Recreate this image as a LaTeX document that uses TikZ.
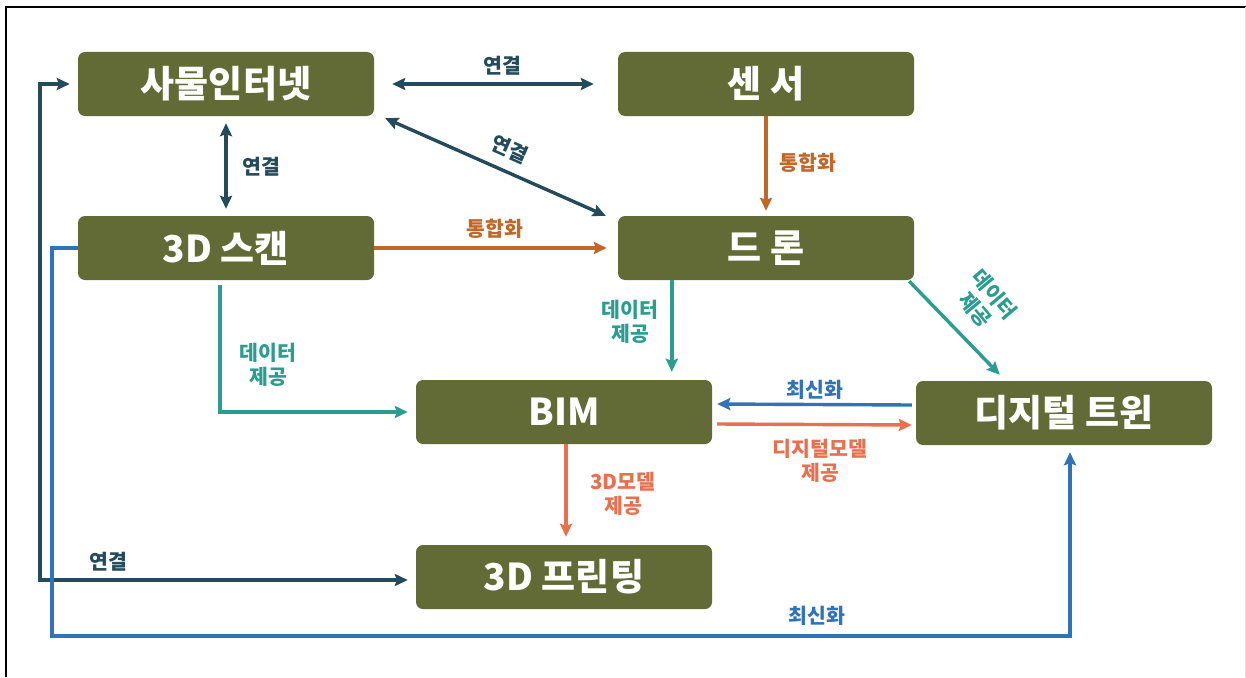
\documentclass[tikz,border=0pt]{standalone}
\usepackage{fontspec}
\setmainfont{Noto Sans CJK KR}
\usetikzlibrary{arrows.meta,calc}
\definecolor{olivebox}{HTML}{626B36}
\definecolor{dk}{HTML}{234B5B}
\definecolor{orng}{HTML}{C0682A}
\definecolor{tl}{HTML}{2A9D8F}
\definecolor{bl}{HTML}{3173B9}
\definecolor{crl}{HTML}{E8704F}
\tikzset{
  box/.style={rectangle, rounded corners=7pt, fill=olivebox, minimum width=296pt, minimum height=64pt, inner sep=0pt, text=white, font=\fontsize{37}{42}\selectfont\bfseries},
  conn/.style={line width=3.4pt, -{Stealth[length=13pt,width=12pt,inset=2pt]}},
  bidir/.style={line width=3.4pt, {Stealth[length=13pt,width=12pt,inset=2pt]}-{Stealth[length=13pt,width=12pt,inset=2pt]}},
  lbl/.style={font=\fontsize{20.5}{24}\selectfont\bfseries, align=center, inner sep=0pt}
}
\begin{document}
\begin{tikzpicture}[x=1pt,y=-1pt]
\useasboundingbox (0,0) rectangle (1246,677);
\fill[white] (0,0) rectangle (1246,677);
\draw[line width=2pt] (6,677) -- (6,7) -- (1246,7);
\draw[black!12, line width=1pt] (1245,7) -- (1245,677);

\node[box] (iot) at (226,84) {사물인터넷};
\node[box] (sen) at (766,84) {센 서};
\node[box] (scan) at (226,248) {3D 스캔};
\node[box] (drone) at (766,248) {드 론};
\node[box] (bim) at (564,412) {BIM};
\node[box] (dt) at (1064,413) {디지털 트윈};
\node[box] (print) at (564,577) {3D 프린팅};

\coordinate (dl) at (40,580);
\coordinate (blc) at (52,636);

% dark connections
\draw[bidir, dk, shorten <=18pt, shorten >=24pt] (iot.east) -- (sen.west);
\draw[bidir, dk, shorten <=7pt, shorten >=7pt] (iot.south) -- (scan.north);
\draw[bidir, dk] ($(iot.south east)+(11,2)$) -- ($(drone.north west)+(-12,0)$);
\draw[bidir, dk, shorten <=8pt, shorten >=8pt] (iot.west) -| (dl) -- (dl -| print.west);

% orange
\draw[conn, orng, shorten >=5pt] (sen.south) -- (drone.north);
\draw[conn, orng, shorten >=11pt] (scan.east) -- (drone.west);

% teal
\draw[conn, tl, shorten <=5pt, shorten >=8pt] ($(scan.south)+(-6,0)$) |- (bim.west);
\draw[conn, tl, shorten >=8pt] ($(drone.south west)+(54,0)$) -- ($(bim.north west)+(256,0)$);
\draw[conn, tl] ($(drone.south east)+(-5,1)$) -- ($(dt.north west)+(84,-6)$);

% blue / coral between BIM and DT
\draw[conn, bl] ($(dt.west)+(-4,-8)$) -- ($(bim.east)+(5,-8)$);
\draw[conn, crl] ($(bim.east)+(5,12)$) -- ($(dt.west)+(-4,12)$);
\draw[conn, crl, shorten >=8pt] ($(bim.south)+(2,0)$) -- ($(print.north)+(2,0)$);

% blue loop
\draw[line width=3.4pt, bl, -{Stealth[length=13pt,width=12pt,inset=2pt]}, shorten >=7pt] (scan.west) -| (blc) -| ($(dt.south)+(6,0)$);

% labels
\node[lbl, dk] (l1) at (502,66) {연결};
\node[lbl, dk] (l2) at (261,167) {연결};
\node[lbl, dk, rotate=-24] (l3) at (510,149) {연결};
\node[lbl, dk] (l4) at (108,562) {연결};
\node[lbl, orng] (l5) at (808,163) {통합화};
\node[lbl, orng] (l6) at (495,229) {통합화};
\node[lbl, tl] (l7) at (268,365) {데이터\\제공};
\node[lbl, tl] (l8) at (630,322) {데이터\\제공};
\node[lbl, tl, rotate=-50] (l9) at (985,302) {데이터\\제공};
\node[lbl, bl] (l10) at (815,390) {최신화};
\node[lbl, crl] (l11) at (820,461) {디지털모델\\제공};
\node[lbl, crl] (l12) at (623,494) {3D모델\\제공};
\node[lbl, bl] (l13) at (817,616) {최신화};
\end{tikzpicture}
\end{document}
